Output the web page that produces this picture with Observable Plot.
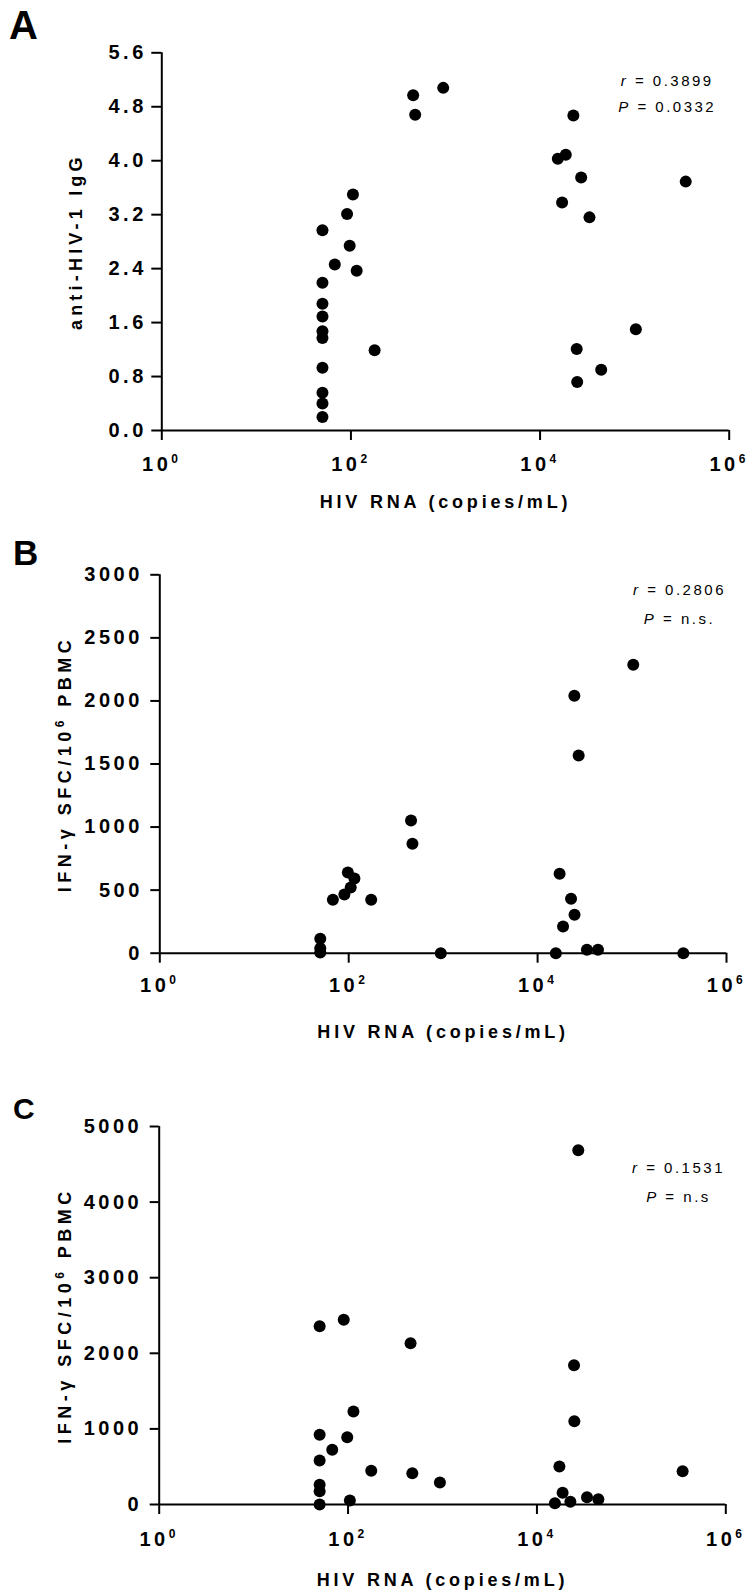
<!DOCTYPE html>
<html>
<head>
<meta charset="utf-8">
<script src="https://cdn.jsdelivr.net/npm/d3@7"></script>
<script src="https://cdn.jsdelivr.net/npm/@observablehq/plot@0.6"></script>
<style>
  body { margin: 0; background: #fff; }
  #root { position: relative; width: 752px; height: 1596px; overflow: hidden; background: #fff; }
  .panel { position: absolute; left: 0; }
  .letter { position: absolute; font-family: "Liberation Sans", Arial, sans-serif; font-weight: 700; line-height: 1.149; color: #000; }
  g[aria-label="y-axis tick label"], g[aria-label="x-axis tick label"] { font-size: 20px; font-weight: 700; letter-spacing: 3.5px; }
</style>
</head>
<body>
<div id="root"></div>
<script>
// ---- shared ticks / labels ----
const xTicks = [1, 1e2, 1e4, 1e6];
const xTitle = "HIV RNA (copies/mL)";

// ---- Panel A: anti-HIV-1 IgG ----
const aYTicks = [0, 0.8, 1.6, 2.4, 3.2, 4.0, 4.8, 5.6];
const aTitle = "anti-HIV-1 IgG";
const aStat = "r = 0.3899\nP = 0.0332";
const aRna = [50, 50, 50, 50, 50, 50, 50, 50, 50, 50, 67.5, 91, 105, 97, 115, 178, 455, 478, 946, 22500, 18700, 15400, 27200, 347000, 17100, 33300, 103000, 24400, 44300, 24700];
const aIgG = [2.97, 2.19, 1.88, 1.69, 1.47, 1.37, 0.93, 0.56, 0.40, 0.20, 2.46, 3.21, 3.50, 2.74, 2.37, 1.19, 4.97, 4.68, 5.08, 4.67, 4.09, 4.03, 3.75, 3.69, 3.38, 3.16, 1.50, 1.21, 0.90, 0.72];

// ---- Panel B: IFN-γ SFC ----
const bYTicks = [0, 500, 1000, 1500, 2000, 2500, 3000];
const bTitle = "IFN-γ SFC/10^6 PBMC";
const bStat = "r = 0.2806\nP = n.s.";
const bRna = [50, 50, 50, 68, 90, 105, 98, 115, 173, 457, 473, 944, 15600, 17100, 18600, 22600, 24600, 33300, 43600, 349000, 103000, 24500, 27200];
const bIfn = [115, 40, 5, 423, 465, 521, 640, 592, 423, 1052, 867, 0, 0, 630, 212, 431, 304, 27, 27, 0, 2287, 2041, 1568];

// ---- Panel C: IFN-γ SFC ----
const cYTicks = [0, 1000, 2000, 3000, 4000, 5000];
const cTitle = "IFN-γ SFC/10^6 PBMC";
const cStat = "r = 0.1531\nP = n.s";
const cRna = [50, 50, 50, 50, 50, 50, 90, 114, 98, 68, 176, 104.5, 459, 479, 939, 24700, 24900, 17300, 349000, 18700, 15500, 22600, 33900, 44700, 27400];
const cIfn = [2358, 922, 582, 260, 176, 0, 2443, 1230, 890, 723, 446, 53, 2134, 414, 291, 1843, 1102, 503, 440, 155, 17, 36, 97, 70, 4687];

const root = document.getElementById("root");
const NS = "http://www.w3.org/2000/svg";

function supify(el, supSize, shift) {
  const s = el.textContent;
  const m = s.match(/^(.*?)\^(\d+)(.*)$/);
  if (!m) return;
  el.textContent = m[1];
  const sup = document.createElementNS(NS, "tspan");
  sup.setAttribute("font-size", supSize);
  sup.setAttribute("dy", -shift);
  sup.textContent = m[2];
  el.appendChild(sup);
  if (m[3]) {
    const rest = document.createElementNS(NS, "tspan");
    rest.setAttribute("dy", shift);
    rest.textContent = m[3];
    el.appendChild(rest);
  }
}

function italicFirst(el) {
  const s = el.textContent;
  el.textContent = "";
  const it = document.createElementNS(NS, "tspan");
  it.setAttribute("font-style", "italic");
  it.textContent = s[0];
  el.appendChild(it);
  el.appendChild(document.createTextNode(s.slice(1)));
}

function panel(cfg) {
  const data = cfg.rna.map((x, i) => ({x, y: cfg.val[i]}));
  const plot = Plot.plot({
    width: 752,
    height: cfg.height,
    marginTop: cfg.mt, marginBottom: cfg.mb, marginLeft: cfg.ml, marginRight: cfg.mr,
    style: {fontFamily: "'Liberation Sans', Arial, sans-serif", background: "transparent", overflow: "visible"},
    x: {type: "log", domain: [1, 1e6]},
    y: {domain: cfg.yDomain},
    marks: [
      Plot.ruleX([1], {strokeWidth: 2, stroke: "black"}),
      Plot.ruleY([0], {strokeWidth: 2, stroke: "black"}),
      Plot.axisX({ticks: xTicks, tickSize: 10, tickPadding: cfg.xPad, strokeWidth: 2, label: null,
        fontSize: 20, fontWeight: "bold",
        tickFormat: d => "10^" + Math.round(Math.log10(d))}),
      Plot.axisY({ticks: cfg.yTicks, tickSize: cfg.yTickSize, tickPadding: cfg.yPad, strokeWidth: 2, label: null,
        fontSize: 20, fontWeight: "bold", tickFormat: cfg.yFmt}),
      Plot.dot(data, {x: "x", y: "y", r: 6, fill: "black", stroke: "none"}),
      Plot.text([cfg.title], {text: d => d, frameAnchor: "left", dx: cfg.titleDx, rotate: -90,
        textAnchor: "middle", lineAnchor: "middle", fontSize: 18, fontWeight: "bold"}),
      Plot.text([xTitle], {text: d => d, frameAnchor: "bottom", dy: cfg.xTitleDy,
        textAnchor: "middle", lineAnchor: "middle", fontSize: 18, fontWeight: "bold"}),
      Plot.text([cfg.stat], {text: d => d, frameAnchor: "top-right", dx: cfg.statDx, dy: cfg.statDy,
        fontSize: 15, lineHeight: cfg.statLH, lineAnchor: "middle", textAnchor: "middle"})
    ]
  });
  plot.querySelectorAll('g[aria-label="x-axis tick label"] text').forEach(t => supify(t, 12, 8));
  const statLines = cfg.stat.split("\n");
  plot.querySelectorAll("text").forEach(t => {
    const s = t.textContent;
    if (s === cfg.title) {
      t.style.letterSpacing = cfg.titleLS + "px";
      supify(t, 12, 7);
    } else if (s === xTitle) {
      t.style.letterSpacing = "3.8px";
    } else if (s === statLines.join("")) {
      t.style.letterSpacing = "2.5px";
      const spans = t.querySelectorAll("tspan");
      if (spans.length) spans.forEach(italicFirst); else italicFirst(t);
    }
  });
  const div = document.createElement("div");
  div.className = "panel";
  div.style.top = cfg.top + "px";
  div.appendChild(plot);
  root.appendChild(div);

  const L = document.createElement("div");
  L.className = "letter";
  L.textContent = cfg.letter;
  L.style.left = cfg.letterX + "px";
  L.style.top = cfg.letterY + "px";
  L.style.fontSize = cfg.letterSize + "px";
  root.appendChild(L);
}

panel({
  letter: "A", letterX: 9, letterY: 3, letterSize: 40,
  top: 0, height: 520, mt: 52.3, mb: 90, ml: 161.3, mr: 23.3,
  rna: aRna, val: aIgG, yDomain: [0, 5.6], yTicks: aYTicks, yFmt: d => d.toFixed(1),
  yTickSize: 10, yPad: 5, xPad: 16.5,
  title: aTitle, titleDx: -86, titleLS: 4.2, xTitleDy: 71.5,
  stat: aStat, statDx: -62, statDy: 38, statLH: 1.73
});

panel({
  letter: "B", letterX: 13, letterY: 533, letterSize: 35,
  top: 520, height: 530, mt: 54.3, mb: 97.3, ml: 159.3, mr: 26,
  rna: bRna, val: bIfn, yDomain: [0, 3000], yTicks: bYTicks, yFmt: d => String(d),
  yTickSize: 9, yPad: 8, xPad: 14.5,
  title: bTitle, titleDx: -94.5, titleLS: 4.5, xTitleDy: 79.5,
  stat: bStat, statDx: -47, statDy: 25.7, statLH: 1.87
});

panel({
  letter: "C", letterX: 13, letterY: 1092, letterSize: 30,
  top: 1050, height: 546, mt: 76, mb: 92, ml: 158.7, mr: 26.7,
  rna: cRna, val: cIfn, yDomain: [0, 5000], yTicks: cYTicks, yFmt: d => String(d),
  yTickSize: 9, yPad: 8, xPad: 17.5,
  title: cTitle, titleDx: -94, titleLS: 4.5, xTitleDy: 76,
  stat: cStat, statDx: -47.3, statDy: 52, statLH: 1.87
});
</script>
</body>
</html>
